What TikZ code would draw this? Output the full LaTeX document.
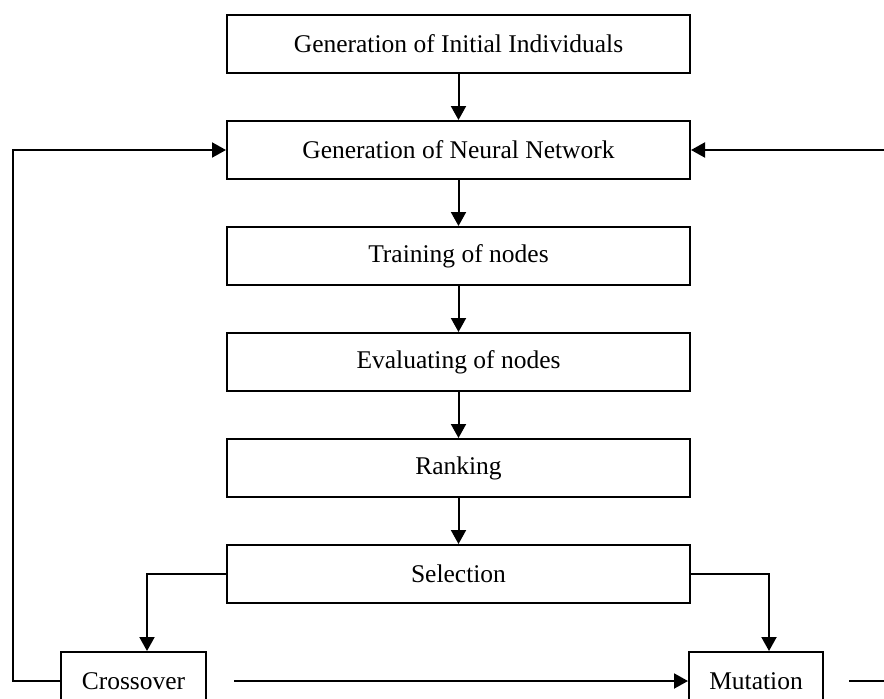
\documentclass[tikz,border=0pt]{standalone}
\usepackage{fontspec}
\setmainfont{Liberation Serif}
\usetikzlibrary{arrows.meta}

\begin{document}
\begin{tikzpicture}[x=1pt,y=-1pt,->,>={Triangle[length=14pt,width=15pt]},
                    line width=2pt,node distance=106pt,
                    main node/.style={rectangle,draw,inner sep=0pt,minimum width=463pt,
                      minimum height=58pt,font=\fontsize{25.5}{30}\selectfont},
                    side node/.style={main node,minimum width=145pt}]

  \clip (0,0) rectangle (884,699);

  \node[main node] (1) at (458.5,44) {Generation of Initial Individuals};
  \node[main node] (2) [below of=1] {Generation of Neural Network};
  \node[main node] (3) [below of=2] {Training of nodes};
  \node[main node] (4) [below of=3] {Evaluating of nodes};
  \node[main node] (5) [below of=4] {Ranking};
  \node[main node] (6) [below of=5] {Selection};
  \node[side node] (7) at (133.5,681) {Crossover};
  \node[side node,minimum width=134pt] (8) at (756,681) {Mutation};

  \coordinate (left) at (13,150);
  \coordinate (right) at (910,150);

  \path (1) edge (2)
        (2) edge (3)
        (3) edge (4)
        (4) edge (5)
        (5) edge (6);

  \draw (6.west) -| ([xshift=13.5pt]7.north);
  \draw (6.east) -| ([xshift=13pt]8.north);
  \draw[shorten <=27pt] (7.east) -- (8.west);
  \draw (7.west) -| (left) -- (2.west);
  \draw[shorten <=25pt] (8.east) -| (right) -- (2.east);
\end{tikzpicture}
\end{document}
